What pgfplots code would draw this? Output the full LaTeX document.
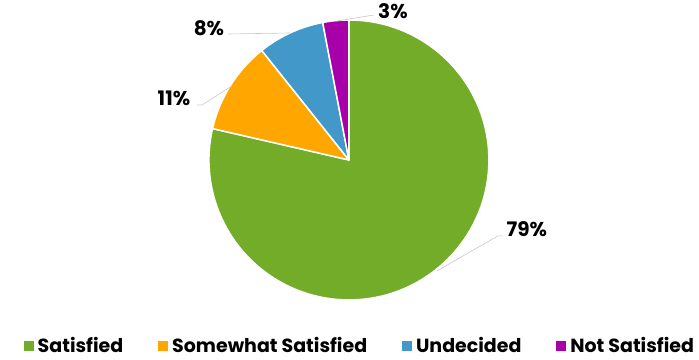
\documentclass[border=0pt]{standalone}
\usepackage{pgfplots}
\pgfplotsset{compat=1.18}
\usepackage{pgfplotstable}
\usepackage{fontspec}
\setmainfont{Poppins}
\definecolor{cSat}{RGB}{114,172,40}
\definecolor{cSom}{RGB}{255,166,0}
\definecolor{cUnd}{RGB}{66,152,200}
\definecolor{cNot}{RGB}{168,0,168}
\definecolor{cLead}{RGB}{200,200,200}
\begin{document}
\begin{tikzpicture}
% shares in percent
\pgfmathsetmacro{\vA}{78.6}
\pgfmathsetmacro{\vB}{10.7}
\pgfmathsetmacro{\vC}{7.7}
\pgfmathsetmacro{\vD}{3.0}
\pgfmathsetmacro{\aA}{90}
\pgfmathsetmacro{\aB}{\aA-3.6*\vA}
\pgfmathsetmacro{\aC}{\aB-3.6*\vB}
\pgfmathsetmacro{\aD}{\aC-3.6*\vC}
\pgfmathsetmacro{\aE}{\aD-3.6*\vD}
\begin{axis}[x=1pt,y=1pt,xmin=0,xmax=699,ymin=0,ymax=360,
  scale only axis, hide axis, clip=false,
  legend columns=4,
  legend style={draw=none,fill=none,at={(axis cs:360,14)},anchor=center,
    font=\fontsize{19}{21}\selectfont\bfseries,
    /tikz/every odd column/.append style={column sep=2.5pt},
    /tikz/every even column/.append style={column sep=33pt}},
  legend image code/.code={\fill[#1] (0pt,-4.5pt) rectangle (9pt,4.5pt);},
]
\path (axis cs:0,0) rectangle (axis cs:699,360);
\filldraw[fill=cSat,draw=white,line width=1.5pt,line join=round] (axis cs:349,200) -- ++(\aA:140pt) arc[start angle=\aA,end angle=\aB,radius=140pt] -- cycle;
\filldraw[fill=cSom,draw=white,line width=1.5pt,line join=round] (axis cs:349,200) -- ++(\aB:140pt) arc[start angle=\aB,end angle=\aC,radius=140pt] -- cycle;
\filldraw[fill=cUnd,draw=white,line width=1.5pt,line join=round] (axis cs:349,200) -- ++(\aC:140pt) arc[start angle=\aC,end angle=\aD,radius=140pt] -- cycle;
\filldraw[fill=cNot,draw=white,line width=1.5pt,line join=round] (axis cs:349,200) -- ++(\aD:140pt) arc[start angle=\aD,end angle=\aE,radius=140pt] -- cycle;
% leader lines
\draw[cLead,line width=0.6pt] (axis cs:437,89) -- (axis cs:498,124) -- (axis cs:503,124);
\draw[cLead,line width=0.6pt] (axis cs:232,274) -- (axis cs:202,255) -- (axis cs:197,255);
\draw[cLead,line width=0.6pt] (axis cs:290,327) -- (axis cs:228,326);
\draw[cLead,line width=0.6pt] (axis cs:337,339) -- (axis cs:374,345);
% data labels
\node[font=\fontsize{20}{22}\selectfont\bfseries] at (axis cs:527,131) {79\%};
\node[font=\fontsize{20}{22}\selectfont\bfseries] at (axis cs:174,262) {11\%};
\node[font=\fontsize{20}{22}\selectfont\bfseries] at (axis cs:209,332) {8\%};
\node[font=\fontsize{20}{22}\selectfont\bfseries] at (axis cs:393,349) {3\%};
\addlegendimage{cSat}\addlegendentry{Satisfied}
\addlegendimage{cSom}\addlegendentry{Somewhat Satisfied}
\addlegendimage{cUnd}\addlegendentry{Undecided}
\addlegendimage{cNot}\addlegendentry{Not Satisfied}
\end{axis}
\end{tikzpicture}
\end{document}
